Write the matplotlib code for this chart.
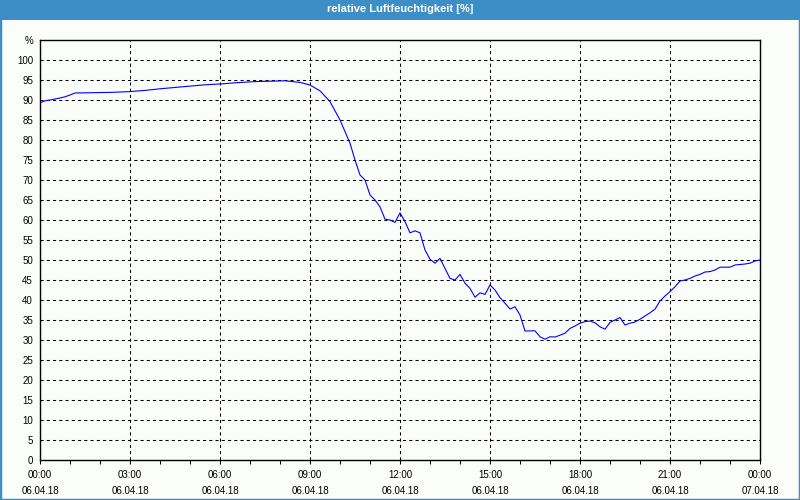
'''
relative humidity chart
'''

import matplotlib
matplotlib.use('Agg')
import matplotlib.pyplot as plt
from matplotlib.patches import Rectangle

# measurement times (hh:mm on 06.04.18, 24:00 = 07.04.18 00:00)
times = ['00:00', '00:10', '00:20', '00:30', '00:40', '00:50', '01:00', '01:10',
		 '02:20', '03:00', '03:30', '04:00', '04:40', '05:30', '06:00', '06:30',
		 '07:10', '08:10', '08:40', '09:00', '09:20', '09:40', '10:00', '10:20',
		 '10:30', '10:40', '10:50', '11:00', '11:10', '11:20', '11:30', '11:40',
		 '11:50', '12:00', '12:10', '12:20', '12:30', '12:40', '12:50', '13:00',
		 '13:10', '13:20', '13:30', '13:40', '13:50', '14:00', '14:10', '14:20',
		 '14:30', '14:40', '14:50', '15:00', '15:10', '15:20', '15:30', '15:40',
		 '15:50', '16:00', '16:10', '16:30', '16:40', '16:50', '17:00', '17:10',
		 '17:20', '17:30', '17:40', '17:50', '18:00', '18:10', '18:20', '18:30',
		 '18:40', '18:50', '19:00', '19:10', '19:20', '19:30', '19:40', '19:50',
		 '20:00', '20:10', '20:20', '20:30', '20:40', '20:50', '21:00', '21:10',
		 '21:20', '21:30', '21:40', '21:50', '22:00', '22:10', '22:20', '22:30',
		 '22:40', '23:00', '23:10', '23:30', '23:40', '23:50', '24:00']

# relative humidity in %
humidity = [89.3, 89.8, 90.0, 90.25, 90.5, 90.8, 91.25, 91.75,
			91.9, 92.1, 92.4, 92.8, 93.25, 93.8, 94.0, 94.3,
			94.6, 94.8, 94.4, 93.75, 92.3, 89.6, 85.0, 79.2,
			75.0, 71.25, 70.0, 66.25, 65.0, 63.3, 60.2, 60.0,
			59.4, 61.8, 59.6, 56.8, 57.3, 56.8, 52.5, 50.2,
			49.2, 50.4, 47.9, 45.4, 45.0, 46.4, 44.2, 42.9,
			40.7, 41.8, 41.4, 43.75, 42.5, 40.6, 39.2, 37.75,
			38.3, 36.25, 32.25, 32.3, 30.8, 30.2, 30.8, 30.75,
			31.2, 31.7, 32.9, 33.5, 34.2, 34.6, 34.75, 34.3,
			33.3, 32.7, 34.4, 35.0, 35.6, 33.75, 34.2, 34.5,
			35.2, 36.0, 36.8, 37.7, 39.75, 41.0, 42.1, 43.3,
			44.75, 45.0, 45.4, 46.0, 46.4, 47.0, 47.1, 47.5,
			48.2, 48.2, 48.75, 49.0, 49.2, 49.75, 50.0]

xtick_hours = [0, 3, 6, 9, 12, 15, 18, 21, 24]
xtick_labels = ['00:00\n06.04.18', '03:00\n06.04.18', '06:00\n06.04.18',
				'09:00\n06.04.18', '12:00\n06.04.18', '15:00\n06.04.18',
				'18:00\n06.04.18', '21:00\n06.04.18', '00:00\n07.04.18']

title = 'relative Luftfeuchtigkeit [%]'

# convert hh:mm to hours
hours = [int(t[:2]) + int(t[3:]) / 60 for t in times]

font = 'Liberation Sans'
bg = '#fbfdfb'
frame_blue = '#3c8fc6'

fig = plt.figure(figsize=(8, 5), dpi=100, facecolor=bg)

# window frame and title bar
fig.patches.append(Rectangle((0, 0), 1, 1, transform=fig.transFigure,
							 fill=False, edgecolor=frame_blue, linewidth=2.5))
fig.patches.append(Rectangle((0, 0.96), 1, 0.04, transform=fig.transFigure,
							 facecolor=frame_blue, edgecolor='none'))
fig.text(0.5, 0.981, title, ha='center', va='center', color='white',
		 fontsize=8, fontweight='bold', family=font)

ax = fig.add_axes([0.05, 0.08, 0.90, 0.84])
ax.set_facecolor(bg)
ax.plot(hours, humidity, color='#0000ff', linewidth=0.8)

ax.set_xlim(0, 24)
ax.set_ylim(0, 105)

# grid lines
for h in xtick_hours[1:-1]:
	ax.axvline(h, color='black', linewidth=0.75, linestyle=(0, (3, 3)), zorder=0)
for v in range(5, 101, 5):
	ax.axhline(v, color='black', linewidth=0.75, linestyle=(0, (3, 3)), zorder=0)

ax.set_xticks(xtick_hours)
ax.set_xticklabels(xtick_labels, family=font, fontsize=7, linespacing=1.75)
ax.set_xticks(range(25), minor=True)
ax.tick_params(axis='x', which='both', direction='out', length=3, width=0.75, pad=4)

yticks = list(range(0, 101, 5)) + [105]
ax.set_yticks(yticks)
ax.set_yticklabels([str(v) for v in range(0, 101, 5)] + ['%'], family=font, fontsize=7)
ax.tick_params(axis='y', length=0, pad=5)

for s in ax.spines.values():
	s.set_linewidth(1.0)

fig.savefig('out.png', dpi=100, facecolor=bg)
